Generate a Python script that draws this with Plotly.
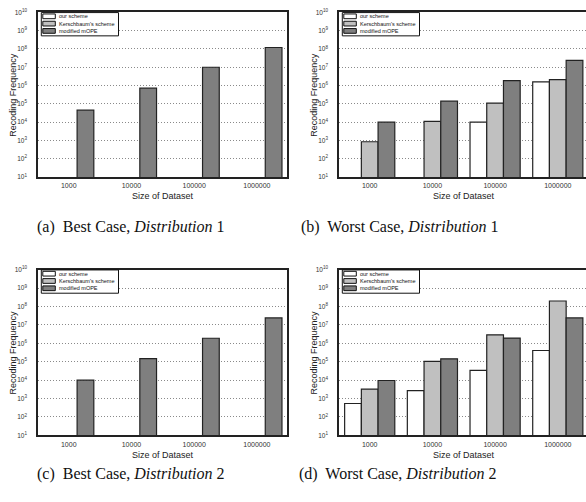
import plotly.graph_objects as go

W, H = 586, 502

sizes = ["1000", "10000", "100000", "1000000"]
series_names = ["our scheme", "Kerschbaum's scheme", "modified mOPE"]
series_colors = ["#ffffff", "#c0c0c0", "#7f7f7f"]

# (a) Best Case, Distribution 1
a_ours = [None, None, None, None]
a_kersch = [None, None, None, None]
a_mope = [4.5e4, 7.2e5, 1.0e7, 1.2e8]
# (b) Worst Case, Distribution 1
b_ours = [None, None, 1.0e4, 1.6e6]
b_kersch = [8.5e2, 1.1e4, 1.1e5, 2.1e6]
b_mope = [1.0e4, 1.4e5, 1.85e6, 2.4e7]
# (c) Best Case, Distribution 2
c_ours = [None, None, None, None]
c_kersch = [None, None, None, None]
c_mope = [1.0e4, 1.5e5, 1.9e6, 2.4e7]
# (d) Worst Case, Distribution 2
d_ours = [5.4e2, 2.7e3, 3.4e4, 4.1e5]
d_kersch = [3.3e3, 1.04e5, 2.9e6, 2.0e8]
d_mope = [9.6e3, 1.45e5, 1.95e6, 2.4e7]

captions = ["(a)  Best Case, <i>Distribution</i> 1",
            "(b)  Worst Case, <i>Distribution</i> 1",
            "(c)  Best Case, <i>Distribution</i> 2",
            "(d)  Worst Case, <i>Distribution</i> 2"]

ytickvals = [10 ** k for k in range(1, 11)]
yticktext = ["10<sup>%d</sup>" % k for k in range(1, 11)]

SANS = "Liberation Sans, Arial, sans-serif"
SERIF = "Liberation Serif, Times New Roman, serif"

# panel pixel boxes: left, right, top, bottom
panels = [
    dict(l=38, r=287, t=8.5, b=175.5, xr=[-0.49, 3.48], data=[a_ours, a_kersch, a_mope], mirror_y=True,
         cap=(131, 226)),
    dict(l=339, r=586, t=8.5, b=175.5, xr=[-0.49, 3.45], data=[b_ours, b_kersch, b_mope], mirror_y=False,
         cap=(399.5, 226)),
    dict(l=38, r=287, t=269.5, b=437.5, xr=[-0.49, 3.48], data=[c_ours, c_kersch, c_mope], mirror_y=True,
         cap=(131, 477)),
    dict(l=339, r=586, t=269.5, b=437.5, xr=[-0.49, 3.45], data=[d_ours, d_kersch, d_mope], mirror_y=False,
         cap=(398, 477)),
]

def px(x):
    return x / W

def py(y):
    return 1 - y / H

fig = go.Figure()
shapes = []
annotations = []

for i, p in enumerate(panels):
    n = "" if i == 0 else str(i + 1)
    xa, ya = "x" + n, "y" + n
    for s, (name, col) in enumerate(zip(series_names, series_colors)):
        fig.add_trace(go.Bar(
            x=sizes, y=p["data"][s], name=name, xaxis=xa, yaxis=ya,
            marker=dict(color=col, line=dict(color="#222222", width=1.2)),
            showlegend=False,
        ))
    fig.layout["xaxis" + n] = dict(
        domain=[px(p["l"]), px(min(p["r"], W))], anchor=ya, type="category",
        range=p["xr"], showgrid=False, zeroline=False,
        showline=True, linecolor="#222222", linewidth=1.5, mirror=True,
        ticks="", ticklabelstandoff=1,
        tickfont=dict(family=SANS, size=7, color="#333333"),
    )
    fig.layout["yaxis" + n] = dict(
        domain=[py(p["b"]), py(p["t"])], anchor=xa, type="log", range=[1, 10],
        tickvals=ytickvals, ticktext=yticktext, ticks="", ticklabelstandoff=8,
        tickfont=dict(family=SANS, size=6.5, color="#333333"),
        showgrid=True, gridcolor="#8a8a8a", griddash="1px,2px", gridwidth=1,
        zeroline=False, showline=True, linecolor="#222222", linewidth=1.5,
        mirror=p["mirror_y"],
    )
    # axis titles
    cx = p["l"] + 124.5
    annotations.append(dict(text="Size of Dataset", x=px(cx), y=py(p["b"] + 19.5),
                            xref="paper", yref="paper", showarrow=False,
                            xanchor="center", yanchor="middle",
                            font=dict(family=SANS, size=9, color="#222222")))
    annotations.append(dict(text="Recoding Frequency", x=px(p["l"] - 25), y=py((p["t"] + p["b"]) / 2),
                            xref="paper", yref="paper", showarrow=False, textangle=-90,
                            xanchor="center", yanchor="middle",
                            font=dict(family=SANS, size=9, color="#222222")))
    # caption
    annotations.append(dict(text=captions[i], x=px(p["cap"][0]), y=py(p["cap"][1]),
                            xref="paper", yref="paper", showarrow=False,
                            xanchor="center", yanchor="middle",
                            font=dict(family=SERIF, size=16, color="#111111")))
    # legend box
    L, T = p["l"], p["t"]
    shapes.append(dict(type="rect", xref="paper", yref="paper",
                       x0=px(L + 3.3), x1=px(L + 80.5), y0=py(T + 0.2), y1=py(T + 23.8),
                       line=dict(color="#111111", width=1), fillcolor="white", layer="above"))
    for s, (name, col) in enumerate(zip(series_names, series_colors)):
        yc = T + 4 + s * 7.4
        shapes.append(dict(type="rect", xref="paper", yref="paper",
                           x0=px(L + 4.8), x1=px(L + 17.3), y0=py(yc - 2.4), y1=py(yc + 2.4),
                           line=dict(color="#111111", width=1), fillcolor=col, layer="above"))
        annotations.append(dict(text=name, x=px(L + 18.6), y=py(yc), xref="paper", yref="paper",
                                showarrow=False, xanchor="left", yanchor="middle",
                                font=dict(family=SANS, size=5.5, color="#111111")))

fig.update_layout(
    width=W, height=H, autosize=False,
    margin=dict(l=0, r=0, t=0, b=0),
    paper_bgcolor="white", plot_bgcolor="white",
    barmode="group", bargap=0.2, bargroupgap=0,
    shapes=shapes, annotations=annotations, showlegend=False,
)

fig.write_html("out.html", config={"displayModeBar": False},
               post_script="document.body.style.margin='0';")
